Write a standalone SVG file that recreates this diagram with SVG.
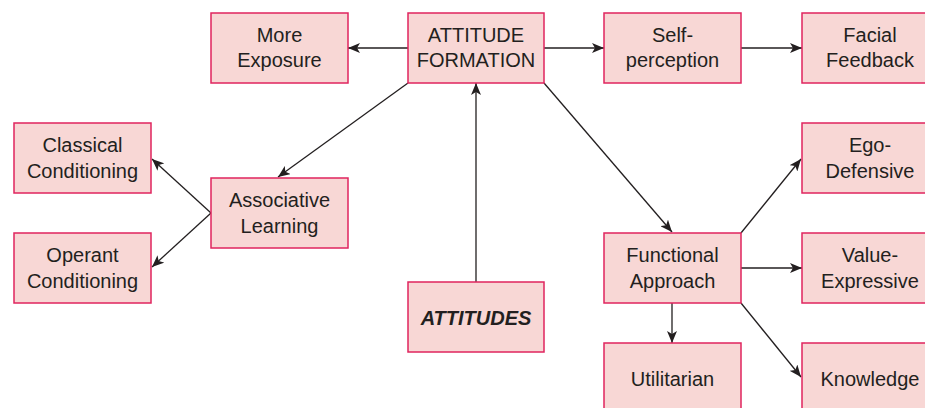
<svg xmlns="http://www.w3.org/2000/svg" width="925" height="408" viewBox="0 0 925 408">
<defs>
<style>
.n rect{fill:#f8d7d5;stroke:#e0245e;stroke-width:1.5}
.n text{font-family:"Liberation Sans",Arial,sans-serif;font-size:20px;fill:#231f20;text-anchor:middle}
.b text{font-weight:bold;font-style:italic}
.c line{stroke:#231f20;stroke-width:1.3;fill:none;marker-end:url(#ah)}
</style>
<marker id="ah" viewBox="0 0 12 10" refX="12" refY="5" markerWidth="12" markerHeight="10" markerUnits="userSpaceOnUse" orient="auto">
<path d="M0,0 L12,5 L0,10 L3,5 Z" fill="#231f20"/>
</marker>
</defs>
<rect width="925" height="408" fill="#ffffff"/>
<g class="c">
<line x1="408" y1="48" x2="348" y2="48"/>
<line x1="544" y1="48" x2="604" y2="48"/>
<line x1="741" y1="48" x2="802" y2="48"/>
<line x1="476" y1="282" x2="476" y2="83"/>
<line x1="408" y1="83" x2="278" y2="177"/>
<line x1="211" y1="213" x2="152" y2="159"/>
<line x1="211" y1="213" x2="152" y2="267"/>
<line x1="544" y1="83" x2="672" y2="232"/>
<line x1="741" y1="233" x2="801" y2="159"/>
<line x1="741" y1="268" x2="802" y2="268"/>
<line x1="672" y1="303" x2="672" y2="343"/>
<line x1="741" y1="303" x2="801" y2="377"/>
</g>
<g id="more-exposure" class="n"><rect x="211" y="13" width="137" height="70"/><text x="279.5" y="42">More</text><text x="279.5" y="67">Exposure</text></g>
<g id="attitude-formation" class="n"><rect x="408" y="13" width="136" height="70"/><text x="476" y="42">ATTITUDE</text><text x="476" y="67">FORMATION</text></g>
<g id="self-perception" class="n"><rect x="604" y="13" width="137" height="70"/><text x="672.5" y="42">Self-</text><text x="672.5" y="67">perception</text></g>
<g id="facial-feedback" class="n"><rect x="802" y="13" width="137" height="70"/><text x="870" y="42">Facial</text><text x="870" y="67">Feedback</text></g>
<g id="classical-conditioning" class="n"><rect x="14" y="123" width="137" height="70"/><text x="82.5" y="152">Classical</text><text x="82.5" y="178">Conditioning</text></g>
<g id="associative-learning" class="n"><rect x="211" y="178" width="137" height="70"/><text x="279.5" y="207">Associative</text><text x="279.5" y="233">Learning</text></g>
<g id="operant-conditioning" class="n"><rect x="14" y="233" width="137" height="70"/><text x="82.5" y="262">Operant</text><text x="82.5" y="288">Conditioning</text></g>
<g id="attitudes" class="n b"><rect x="408" y="282" width="136" height="70"/><text x="476" y="325">ATTITUDES</text></g>
<g id="functional-approach" class="n"><rect x="604" y="233" width="137" height="70"/><text x="672.5" y="262">Functional</text><text x="672.5" y="288">Approach</text></g>
<g id="ego-defensive" class="n"><rect x="802" y="123" width="137" height="70"/><text x="870" y="152">Ego-</text><text x="870" y="178">Defensive</text></g>
<g id="value-expressive" class="n"><rect x="802" y="233" width="137" height="70"/><text x="870" y="262">Value-</text><text x="870" y="288">Expressive</text></g>
<g id="utilitarian" class="n"><rect x="604" y="343" width="137" height="70"/><text x="672.5" y="386">Utilitarian</text></g>
<g id="knowledge" class="n"><rect x="802" y="343" width="137" height="70"/><text x="870" y="386">Knowledge</text></g>
</svg>
